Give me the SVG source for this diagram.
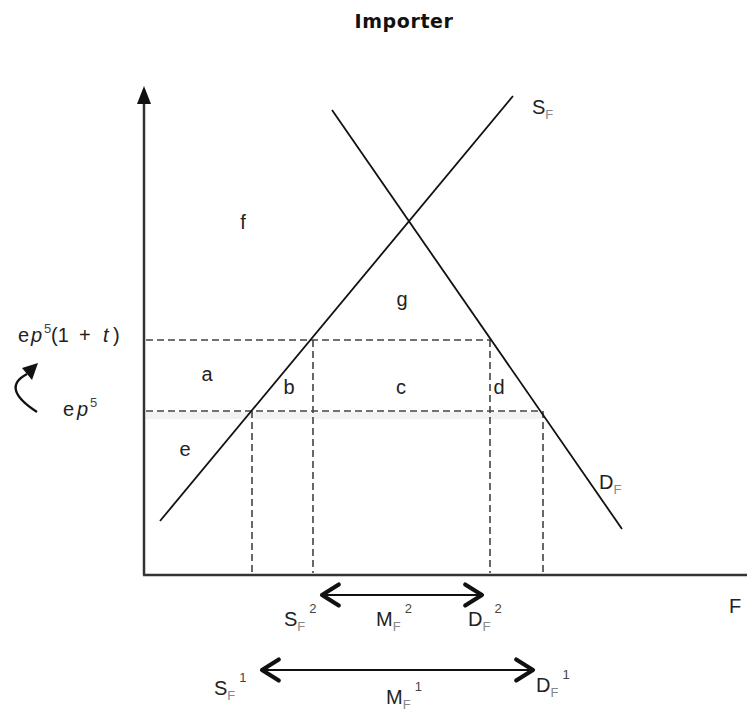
<svg xmlns="http://www.w3.org/2000/svg" width="747" height="713" viewBox="0 0 747 713">
<defs>
<style>
.lbl{font-family:"Liberation Sans",Arial,sans-serif;font-size:20px;fill:#222}
.sub{font-size:13px;fill:#888}
.sup{font-size:13px;fill:#444}
.title{font-family:"DejaVu Sans",Verdana,sans-serif;font-size:19px;font-weight:bold;fill:#111;letter-spacing:0.6px}
.dash{stroke:#444;stroke-width:1.6;stroke-dasharray:7,4;fill:none}
.curve{stroke:#111;stroke-width:1.8;fill:none}
.axis{stroke:#333;stroke-width:2.5;fill:none}
.qarrow{stroke:#111;stroke-width:2.2;fill:none}
</style>
<marker id="chev" viewBox="0 0 20 20" refX="18" refY="10" markerWidth="28" markerHeight="28" markerUnits="userSpaceOnUse" orient="auto-start-reverse">
<path d="M6,2.5 L18,10 L6,17.5" fill="none" stroke="#111" stroke-width="3" stroke-linecap="round" stroke-linejoin="round"/>
</marker>
</defs>
<rect width="747" height="713" fill="#fff"/>
<text class="title" x="404" y="28" text-anchor="middle">Importer</text>

<g id="axes">
<line class="axis" x1="144" y1="575" x2="144" y2="98"/>
<path d="M137,104 L144,86 L151,104 Z" fill="#111"/>
<line class="axis" x1="143" y1="575" x2="747" y2="575"/>
</g>

<rect x="146" y="412" width="396" height="7" fill="#f2f2f2"/>

<g id="connectors">
<line class="dash" x1="146" y1="340" x2="491" y2="340"/>
<line class="dash" x1="146" y1="411" x2="541" y2="411"/>
<line class="dash" x1="252" y1="411" x2="252" y2="573"/>
<line class="dash" x1="313" y1="340" x2="313" y2="573"/>
<line class="dash" x1="490" y1="340" x2="490" y2="573"/>
<line class="dash" x1="543" y1="411" x2="543" y2="573"/>
</g>

<g id="supply">
<line class="curve" x1="160" y1="521" x2="513" y2="96"/>
<text class="lbl" x="532" y="114">S<tspan class="sub" dy="5">F</tspan></text>
</g>
<g id="demand">
<line class="curve" x1="332" y1="110" x2="622" y2="529"/>
<text class="lbl" x="599" y="489">D<tspan class="sub" dy="5">F</tspan></text>
</g>

<g id="areas">
<text class="lbl" x="243" y="229" text-anchor="middle">f</text>
<text class="lbl" x="402" y="306" text-anchor="middle">g</text>
<text class="lbl" x="207" y="381" text-anchor="middle">a</text>
<text class="lbl" x="289" y="394" text-anchor="middle">b</text>
<text class="lbl" x="401" y="394" text-anchor="middle">c</text>
<text class="lbl" x="499" y="394" text-anchor="middle">d</text>
<text class="lbl" x="185" y="456" text-anchor="middle">e</text>
</g>

<g id="price-labels">
<text class="lbl" y="342"><tspan x="18">e</tspan><tspan x="31" font-style="italic">p</tspan><tspan class="sup" x="44" y="333">5</tspan><tspan x="51" y="342">(1</tspan><tspan x="79">+</tspan><tspan x="103" font-style="italic">t</tspan><tspan x="113">)</tspan></text>
<text class="lbl" y="416"><tspan x="63">e</tspan><tspan x="77" font-style="italic">p</tspan><tspan class="sup" x="90" y="407">5</tspan></text>
<path d="M37,412 Q0,388 27,374" fill="none" stroke="#111" stroke-width="2.4"/>
<path d="M22,368 L38,363 L32,380 Z" fill="#111"/>
</g>

<g id="axis-label">
<text class="lbl" x="729" y="613">F</text>
</g>

<g id="imports2">
<line class="qarrow" x1="322" y1="595" x2="482" y2="595" marker-start="url(#chev)" marker-end="url(#chev)"/>
<text class="lbl" x="284" y="626">S<tspan class="sub" dy="5">F</tspan><tspan class="sup" dx="4" dy="-18">2</tspan></text>
<text class="lbl" x="376" y="626">M<tspan class="sub" dy="5">F</tspan><tspan class="sup" dx="4" dy="-18">2</tspan></text>
<text class="lbl" x="468" y="626">D<tspan class="sub" dy="5">F</tspan><tspan class="sup" dx="4" dy="-18">2</tspan></text>
</g>

<g id="imports1">
<line class="qarrow" x1="262" y1="670" x2="533" y2="670" marker-start="url(#chev)" marker-end="url(#chev)"/>
<text class="lbl" x="214" y="695">S<tspan class="sub" dy="5">F</tspan><tspan class="sup" dx="4" dy="-18">1</tspan></text>
<text class="lbl" x="386" y="704">M<tspan class="sub" dy="5">F</tspan><tspan class="sup" dx="4" dy="-18">1</tspan></text>
<text class="lbl" x="536" y="692">D<tspan class="sub" dy="5">F</tspan><tspan class="sup" dx="4" dy="-18">1</tspan></text>
</g>
</svg>
